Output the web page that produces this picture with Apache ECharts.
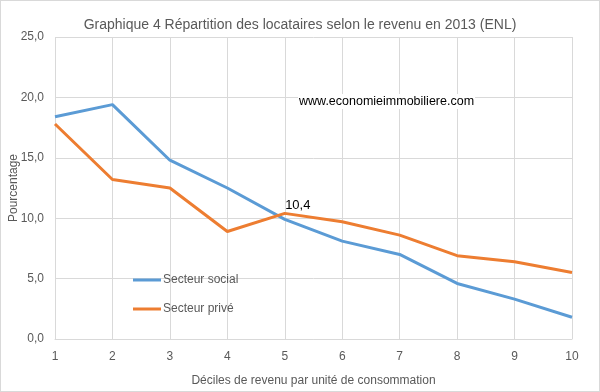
<!DOCTYPE html>
<html><head><meta charset="utf-8">
<script src="https://cdn.jsdelivr.net/npm/echarts@6/dist/echarts.min.js"></script>
<style>html,body{margin:0;padding:0;background:#fff}#c{width:598px;height:390px;border:1px solid #d9d9d9}</style>
</head><body><div id="c"></div>
<script>
const categories = ['1','2','3','4','5','6','7','8','9','10'];
const social = [18.4, 19.4, 14.8, 12.5, 9.9, 8.1, 7.0, 4.6, 3.3, 1.8];
const prive = [17.8, 13.2, 12.5, 8.9, 10.4, 9.7, 8.6, 6.9, 6.4, 5.5];
const seriesNames = ['Secteur social', 'Secteur privé'];
const labelIndex = 4;

const chart = echarts.init(document.getElementById('c'));
const font = 'Liberation Sans, Arial, sans-serif';
chart.setOption({
  animation: false,
  textStyle: {fontFamily: font},
  title: {text: 'Graphique 4 Répartition des locataires selon le revenu en 2013 (ENL)', left: 'center', top: 12,
    textStyle: {fontFamily: font, fontSize: 14, fontWeight: 'normal', color: '#595959'}},
  graphic: [{type: 'text', left: 297, top: 93, z: 10, style: {text: 'www.economieimmobiliere.com', font: '12.5px ' + font, fill: '#000', backgroundColor: '#fff', padding: [1, 1]}}],
  legend: {orient: 'vertical', left: 127, top: 268, itemGap: 17, itemWidth: 28, itemHeight: 3, icon: 'rect',
    textStyle: {fontFamily: font, fontSize: 12, color: '#595959', padding: [0,0,0,-3]}, data: seriesNames},
  grid: {left: 54, right: 27, top: 36, bottom: 52, containLabel: false, outerBoundsMode: 'none'},
  xAxis: {type: 'category', data: categories, boundaryGap: false,
    name: 'Déciles de revenu par unité de consommation', nameLocation: 'middle', nameGap: 36,
    nameTextStyle: {fontSize: 12, color: '#595959'},
    axisLine: {lineStyle: {color: '#d9d9d9'}}, axisTick: {show: false},
    axisLabel: {color: '#595959', fontSize: 12, margin: 12},
    splitLine: {show: true, lineStyle: {color: '#d9d9d9'}}},
  yAxis: {type: 'value', min: 0, max: 25, interval: 5,
    name: 'Pourcentage', nameLocation: 'middle', nameGap: 35, nameMoveOverlap: false,
    nameTextStyle: {fontSize: 12, color: '#595959'},
    axisLine: {show: false}, axisTick: {show: false},
    axisLabel: {color: '#595959', fontSize: 12, margin: 11, formatter: v => v.toFixed(1).replace('.', ',')},
    splitLine: {lineStyle: {color: '#d9d9d9'}}},
  series: [
    {name: seriesNames[0], type: 'line', data: social, symbol: 'none', lineStyle: {width: 3, color: '#5b9bd5'}, itemStyle: {color: '#5b9bd5'}},
    {name: seriesNames[1], type: 'line', showSymbol: true, symbol: 'circle', symbolSize: 0,
      data: prive.map((v, i) => i === labelIndex ? {value: v, label: {show: true, position: 'top', offset: [13, 4], color: '#000', fontSize: 13, formatter: p => String(p.value).replace('.', ',')}} : v),
      lineStyle: {width: 3, color: '#ed7d31'}, itemStyle: {color: '#ed7d31'}}
  ]
});
</script></body></html>
